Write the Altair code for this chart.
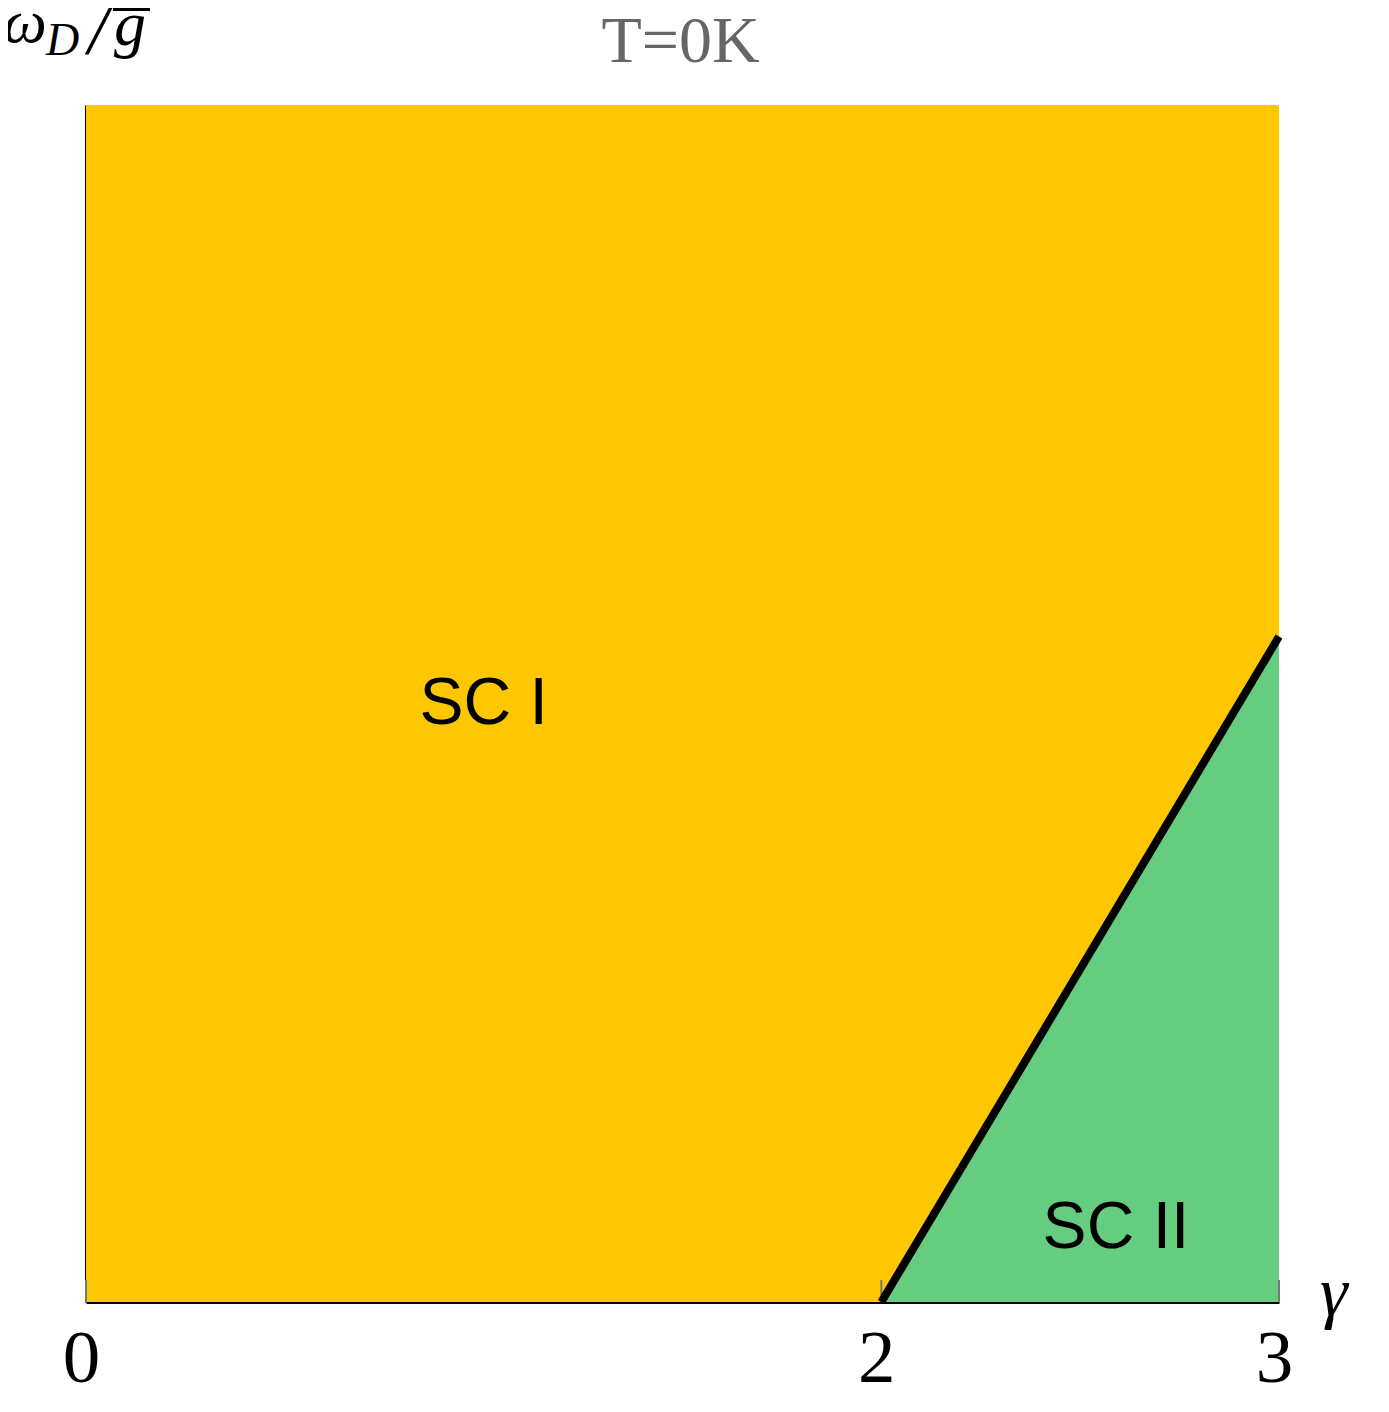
import altair as alt
import pandas as pd

# ---- data ----
x_ticks = [0, 2, 3]
domain_gamma = [0, 3]
domain_omega = [0, 1]
boundary_gamma = [2, 3]
boundary_omega = [0, 0.556]
phase_labels = ["SC I", "SC II"]
phase_label_gamma = [1.0, 2.59]
phase_label_omega = [0.50, 0.062]
title_text = "T=0K"

YELLOW = "#FEC701"
GREEN = "#66CC80"
W, H = 1193, 1197

xs = alt.Scale(domain=domain_gamma, nice=False, zero=False)
ys = alt.Scale(domain=domain_omega, nice=False, zero=False)

full_df = pd.DataFrame({"x0": [domain_gamma[0]], "x1": [domain_gamma[1]],
                        "y0": [domain_omega[0]], "y1": [domain_omega[1]]})
bound_df = pd.DataFrame({"gamma": boundary_gamma, "omega": boundary_omega,
                         "base": [0] * len(boundary_gamma)})
lab_df = pd.DataFrame({"label": phase_labels, "gamma": phase_label_gamma,
                       "omega": phase_label_omega})
tick_df = pd.DataFrame({"t": x_ticks})
one = pd.DataFrame({"k": [0]})

x_axis = alt.Axis(values=x_ticks, format="d", title=None, ticks=False, grid=False,
                  labelFont="Liberation Serif", labelFontSize=75, labelColor="black",
                  labelPadding=20, labelOffset=-5, domainColor="black", domainWidth=3,
                  labelFlush=False)
y_axis = alt.Axis(title=None, labels=False, ticks=False, grid=False,
                  domainColor="black", domainWidth=3)

yellow = alt.Chart(full_df).mark_rect(color=YELLOW).encode(
    x=alt.X("x0:Q", scale=xs, axis=x_axis), x2="x1:Q",
    y=alt.Y("y0:Q", scale=ys, axis=y_axis), y2="y1:Q")

green = alt.Chart(bound_df).mark_area(color=GREEN, opacity=1).encode(
    x=alt.X("gamma:Q", scale=xs), y=alt.Y("omega:Q", scale=ys), y2="base:Q")

ticks = alt.Chart(tick_df).mark_rule(color="#777777", strokeWidth=2).encode(
    x=alt.X("t:Q", scale=xs), y=alt.value(H), y2=alt.value(H - 22))

line = alt.Chart(bound_df).mark_line(color="black", strokeWidth=8).encode(
    x=alt.X("gamma:Q", scale=xs), y=alt.Y("omega:Q", scale=ys))

labels = alt.Chart(lab_df).mark_text(font="Liberation Sans", fontSize=66,
                                     color="black", baseline="middle").encode(
    x=alt.X("gamma:Q", scale=xs), y=alt.Y("omega:Q", scale=ys), text="label:N")

serif_it = dict(font="Liberation Serif", fontStyle="italic", color="black",
                align="left", baseline="alphabetic")
omega_t = alt.Chart(one).mark_text(fontSize=62, **serif_it).encode(
    x=alt.value(-83), y=alt.value(-63), text=alt.value("ω"))
d_t = alt.Chart(one).mark_text(fontSize=46, **serif_it).encode(
    x=alt.value(-40), y=alt.value(-50), text=alt.value("D"))
slash_t = alt.Chart(one).mark_text(fontSize=72, **serif_it).encode(
    x=alt.value(2), y=alt.value(-52), text=alt.value("/"))
g_t = alt.Chart(one).mark_text(fontSize=64, **serif_it).encode(
    x=alt.value(28), y=alt.value(-60), text=alt.value("g"))
gbar = alt.Chart(one).mark_rule(color="black", strokeWidth=4).encode(
    x=alt.value(27), x2=alt.value(64), y=alt.value(-96))
gamma_t = alt.Chart(one).mark_text(fontSize=70, **serif_it).encode(
    x=alt.value(1234), y=alt.value(1210), text=alt.value("γ"))
title_t = alt.Chart(one).mark_text(font="Liberation Serif", fontSize=66,
                                   color="#666666", align="center",
                                   baseline="alphabetic").encode(
    x=alt.value(W / 2 - 2), y=alt.value(-43), text=alt.value(title_text))

chart = alt.layer(yellow, green, ticks, line, labels, omega_t, d_t, slash_t,
                  g_t, gbar, gamma_t, title_t).properties(
    width=W, height=H,
    autosize=alt.AutoSizeParams(type="none"),
    padding={"left": 78, "top": 97, "right": 100, "bottom": 100},
).configure_view(stroke=None)

chart.save("out.html", embed_options={"renderer": "svg", "actions": False})
